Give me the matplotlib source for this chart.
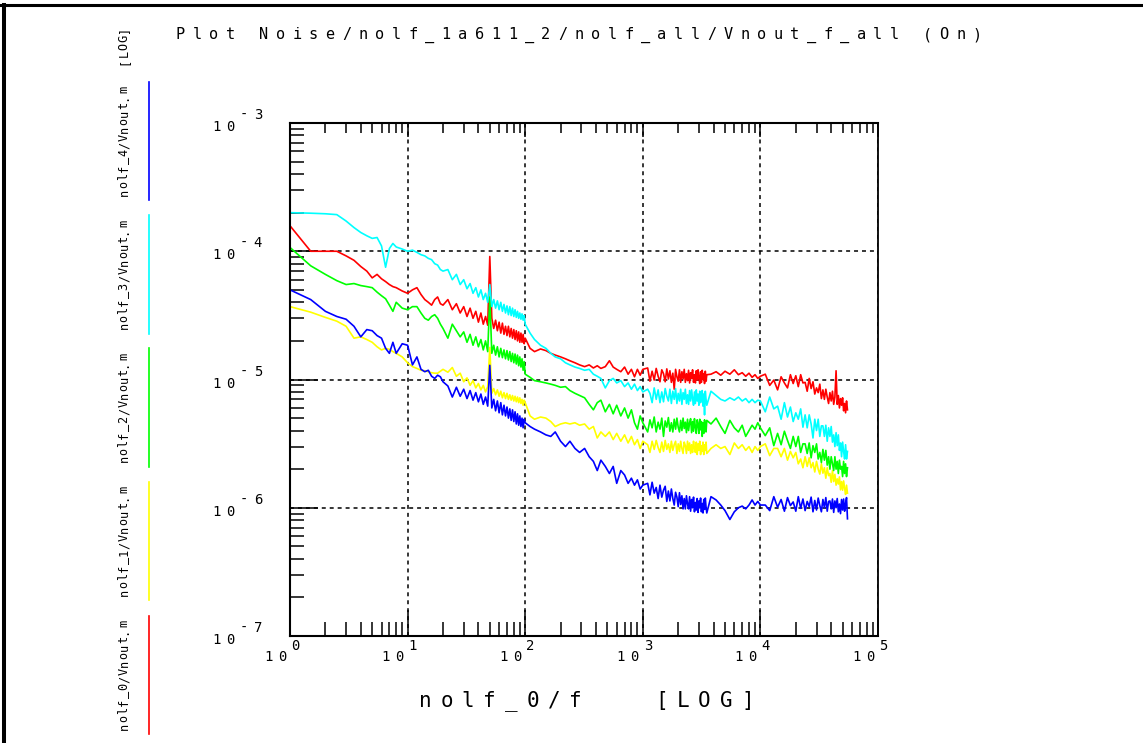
import numpy as np
import matplotlib
matplotlib.use("Agg")
import matplotlib.pyplot as plt
from matplotlib.lines import Line2D
from matplotlib.ticker import LogLocator, NullFormatter

W, H = 1143, 743

# ---------------- data ----------------
# sweep frequencies (Hz), five sweep segments
freq_a = [1, 1.5, 2, 2.5, 3, 3.5, 4, 4.5, 5, 5.5, 6, 6.5, 7, 7.5, 8, 9, 10, 11, 12, 13, 14,
          15, 16, 17, 18, 19, 20,
          22, 24, 26, 28, 30, 32, 34, 36, 38, 40, 42, 44, 46, 48, 50, 52, 54, 56, 58, 60,
          62, 64, 66, 68, 70, 72, 74, 76, 78, 80, 82, 84, 86, 88, 90, 92, 94, 96, 98, 100]
freq_b = [110, 120, 135, 150, 165, 180, 200, 220, 240, 265, 290, 320, 350, 380, 410, 440,
          480, 520, 560, 600, 650, 700, 750, 800, 850, 900, 950, 1000]
freq_c = [1100, 1150, 1200, 1250, 1300, 1350, 1400, 1450, 1500, 1550, 1600, 1650, 1700,
          1750, 1800, 1850, 1900, 1950, 2000, 2050, 2100, 2150, 2200, 2250, 2300, 2350,
          2400, 2450, 2500, 2550, 2600, 2650, 2700, 2750, 2800, 2850, 2900, 2950, 3000,
          3050, 3100, 3150, 3200, 3250, 3300, 3350, 3400, 3450, 3500]
freq_d = [3800, 4200, 4600, 5000, 5500, 6000, 6500, 7000, 7500, 8000, 8500, 9000, 9500, 10000]
freq_e = [11000, 12000, 13000, 14000, 15000, 16000, 17000, 18000, 19000, 20000, 21000,
          22000, 23000, 24000, 25000, 26000, 27000, 28000, 29000, 30000, 31000, 32000,
          33000, 34000, 35000, 36000, 37000, 38000, 39000, 40000, 41000, 42000, 43000,
          44000, 45000, 46000, 47000, 48000, 49000, 50000, 51000, 52000, 53000, 54000, 55000]
freq = freq_a + freq_b + freq_c + freq_d + freq_e

# output noise voltage, microvolts
nolf_0 = [158, 100, 100, 100, 92, 85, 76, 70, 62, 66, 61, 58, 55, 53, 52, 49, 47, 50, 52, 46,
          42, 40, 38, 42, 44, 39, 38,
          42, 35, 39, 33, 37, 31, 36, 30, 34, 28, 33, 27, 31, 26.5, 91, 30, 25, 29, 24, 28,
          23, 27.5, 22.5, 26, 22, 26, 21.5, 25, 21, 24.5, 20.5, 24, 20, 23.5, 19.5, 23, 19.5,
          22.5, 19, 21,
          17.5, 16.5, 17.3, 16.8, 16, 15.5, 15, 14.5, 14, 13.5, 13, 12.6, 13, 12.3, 12.8, 12.2,
          12.6, 14, 12.5, 12, 11.5, 12.5, 11, 12, 10.5, 12, 10.8, 12,
          12.3, 9.7, 11.6, 9.9, 12.2, 10.6, 9.6, 11.9, 11.1, 9.6, 12.1, 10.1, 11.7, 9.5, 11.2,
          8.4, 12.0, 10.5, 9.7, 11.9, 9.5, 11.5, 10.1, 12.0, 9.5, 11.1, 9.8, 11.8, 9.4, 11.3,
          10.2, 11.9, 9.5, 10.9, 9.4, 11.7, 9.9, 11.9, 10.3, 9.3, 11.5, 9.5, 11.8, 10.0, 11.1,
          9.3, 11.6, 9.7, 10.9,
          11, 11.5, 10.8, 11.6, 11, 11.9, 10.9, 11.3, 10.6, 11.2, 10.4, 10.9, 10.2, 10.6,
          11.0, 9.0, 9.9, 8.3, 10.5, 9.4, 8.6, 10.9, 9.3, 10.7, 8.8, 10.9, 9.4, 9.5, 8.1, 10.2,
          8.5, 9.6, 7.7, 8.6, 7.9, 9.2, 7.1, 8.3, 7.0, 8.4, 7.3, 6.5, 7.9, 6.8, 8.1, 6.4, 7.3,
          11.7, 6.4, 7.5, 6.0, 7.1, 6.3, 7.2, 5.7, 6.5, 5.5, 6.8, 5.8]

nolf_1 = [37, 33.5, 30.5, 28.5, 26, 21, 21.5, 20.5, 19.5, 18, 17, 17.5, 17.2, 16.5, 16, 15,
          13.5, 12.6, 12.2, 11.8, 11.7, 11.5, 11.3, 11.2, 11.2, 11.6, 12.0,
          11.4, 12.4, 10.6, 11.2, 9.6, 10.3, 9.0, 9.8, 8.6, 9.3, 8.3, 9.0, 8.0, 8.8, 17.8, 7.8,
          8.5, 7.6, 8.3, 7.4, 8.1, 7.2, 7.9, 7.1, 7.8, 7.0, 7.6, 6.9, 7.5, 6.8, 7.4, 6.7, 7.3,
          6.6, 7.2, 6.5, 7.0, 6.3, 6.9, 6.6,
          5.2, 4.9, 5.1, 5.0, 4.7, 4.3, 4.5, 4.6, 4.5, 4.6, 4.4, 4.5, 4.1, 4.3, 3.5, 3.9, 3.6,
          3.9, 3.4, 3.8, 3.3, 3.7, 3.2, 3.6, 3.1, 3.4, 2.9, 3.3,
          3.1, 2.7, 3.3, 2.85, 3.35, 2.95, 2.7, 3.25, 2.75, 3.35, 2.85, 3.15, 2.7, 3.3, 2.8,
          3.1, 3.3, 2.65, 3.15, 2.75, 3.3, 2.9, 2.65, 3.25, 3.05, 2.65, 3.3, 2.8, 3.2, 2.65,
          3.1, 2.7, 3.3, 2.9, 2.7, 3.25, 2.6, 3.15, 2.8, 3.3, 2.6, 3.05, 2.75, 3.25, 2.6, 3.1,
          2.8, 3.25, 2.65,
          2.9, 3.1, 2.9, 3.0, 2.6, 3.2, 2.9, 3.1, 2.8, 3.0, 2.7, 3.0, 2.8, 3.0,
          3.15, 2.55, 2.9, 2.9, 2.5, 2.9, 2.35, 2.75, 2.45, 2.7, 2.2, 2.4, 2.05, 2.5, 2.1, 2.45,
          2.05, 2.25, 1.9, 2.3, 2.0, 1.83, 2.2, 1.86, 2.05, 1.7, 2.05, 1.78, 1.85, 1.58, 1.95,
          1.6, 1.82, 1.5, 1.68, 1.53, 1.74, 1.38, 1.6, 1.37, 1.62, 1.42, 1.27, 1.5, 1.3]

nolf_2 = [107, 77, 66, 59, 55, 56, 54, 53, 52, 48, 45, 42.6, 38, 34, 40, 36, 35, 37, 37, 33,
          30, 29, 31, 32, 30, 27, 25,
          21, 27, 24, 21.5, 23.5, 19.5, 22.5, 18.5, 21.5, 18, 20.5, 17, 20, 16.5, 44, 16, 18.5,
          15.5, 18, 15, 17.5, 14.8, 17, 14.5, 16.8, 14.2, 16.5, 13.8, 16, 13.5, 15.8, 13.2,
          15.5, 12.8, 15, 12.5, 14.5, 11.8, 13.8, 11,
          10.4, 9.8, 9.6, 9.4, 9.2, 9.0, 8.7, 8.8, 8.2, 7.8, 7.5, 7.2, 6.4, 5.8, 6.6, 6.9, 5.6,
          6.4, 5.4, 6.3, 5.2, 6.0, 5.0, 5.8, 4.6, 4.1, 5.2, 4.6,
          3.9, 4.85, 4.2, 5.1, 3.9, 4.65, 4.1, 5.0, 3.6, 4.75, 4.25, 5.05, 3.95, 4.6, 3.9, 4.9,
          4.1, 5.0, 4.25, 3.9, 4.8, 4.0, 5.0, 4.15, 4.65, 3.85, 4.9, 4.0, 4.6, 4.95, 3.85, 4.7,
          3.95, 4.95, 4.25, 3.8, 4.85, 4.5, 3.8, 4.9, 4.05, 4.7, 3.6, 4.6, 3.8, 4.85, 4.2, 3.9,
          4.8,
          4.5, 5.0, 4.3, 3.8, 4.8, 4.2, 3.9, 4.4, 3.6, 4.0, 4.4, 4.1, 4.6, 4.2,
          3.65, 4.2, 3.05, 3.8, 3.1, 3.95, 3.35, 2.9, 3.6, 3.0, 3.6, 2.7, 3.15, 3.15, 2.65, 3.2,
          2.45, 3.05, 2.7, 3.15, 2.4, 2.7, 2.25, 2.85, 2.35, 2.8, 2.15, 2.5, 2.0, 2.5, 2.2,
          1.95, 2.5, 2.0, 2.3, 1.85, 2.35, 2.0, 2.1, 1.75, 2.3, 1.85, 2.2, 1.75, 2.05]

nolf_3 = [200, 198, 196, 193, 172, 153, 140, 132, 126, 128, 110, 75, 105, 115, 108, 104, 100,
          102, 98, 94, 92, 88, 86, 80, 78, 72, 70,
          72, 60, 66, 55, 60, 51, 56, 47, 52, 44, 50, 42, 47, 40, 55, 37, 42, 36, 41, 35, 40,
          34, 38.5, 33, 37.5, 32, 37, 31.5, 36, 31, 35, 30.5, 34, 30, 33, 29.5, 32.5, 29, 31.5,
          27,
          23, 20.5, 18.5, 17.5, 16, 15, 14.5, 13.5, 13, 12.5, 12.2, 11.8, 12, 11, 10.6, 10.2,
          8.6, 9.8, 10.2, 9.4, 9.8, 8.8, 9.4, 8.4, 9.2, 8.2, 8.8, 8.0,
          8.4, 7.8, 6.6, 8.6, 7.0, 8.3, 6.6, 8.0, 6.7, 8.5, 7.4, 6.8, 8.4, 6.5, 8.1, 7.0, 8.5,
          6.5, 7.8, 6.8, 8.4, 6.4, 7.9, 7.0, 8.4, 6.5, 7.6, 6.4, 8.2, 6.8, 8.3, 7.1, 6.3, 8.0,
          6.5, 8.3, 6.8, 7.7, 6.3, 8.1, 6.6, 7.6, 8.2, 6.2, 7.7, 5.3, 8.1, 7.0, 6.3,
          8.1, 7.5, 7.0, 6.8, 7.2, 6.9, 7.3, 6.8, 7.1, 6.6, 7.0, 6.6, 6.9, 6.8,
          5.6, 7.3, 5.9, 6.2, 4.9, 6.6, 5.1, 6.1, 4.7, 5.5, 4.9, 5.9, 4.25, 5.3, 4.2, 5.3, 4.5,
          3.5, 4.9, 4.0, 4.9, 3.6, 4.35, 4.35, 3.6, 4.4, 3.3, 4.2, 3.6, 4.3, 3.25, 3.7, 3.0,
          3.85, 3.05, 3.7, 2.8, 3.2, 2.5, 3.25, 2.75, 2.4, 3.1, 2.4, 2.75]

nolf_4 = [50, 42, 34, 31, 29.5, 26, 21.5, 24.5, 24, 22, 21, 17.5, 16, 19.5, 16, 19, 18.5, 13,
          15, 12, 11.5, 11.8, 10.6, 10.2, 10.8, 10.5, 9.6,
          8.9, 7.3, 8.7, 7.4, 8.4, 7.1, 8.2, 6.9, 7.9, 6.7, 7.7, 6.4, 7.3, 6.2, 12.9, 6.0, 7.0,
          5.7, 6.8, 5.5, 6.6, 5.3, 6.3, 5.2, 6.1, 5.0, 5.9, 4.8, 5.8, 4.7, 5.6, 4.5, 5.4, 4.4,
          5.2, 4.3, 5.0, 4.2, 4.9, 4.6,
          4.3, 4.1, 3.9, 3.7, 3.6, 3.9, 3.3, 3.0, 3.3, 2.9, 2.7, 2.9, 2.5, 2.3, 1.95, 2.35, 2.1,
          1.85, 2.1, 1.55, 1.95, 1.8, 1.55, 1.7, 1.5, 1.65, 1.4, 1.5,
          1.55, 1.26, 1.58, 1.3, 1.44, 1.18, 1.5, 1.21, 1.37, 1.47, 1.12, 1.35, 1.13, 1.4, 1.18,
          1.05, 1.32, 1.21, 1.02, 1.31, 1.06, 1.24, 0.98, 1.18, 0.98, 1.24, 1.07, 0.98, 1.22,
          0.94, 1.16, 1.0, 1.21, 0.93, 1.1, 0.96, 1.18, 0.92, 1.13, 1.0, 1.19, 0.93, 1.08, 0.91,
          1.16, 0.97, 1.19, 1.01, 0.91,
          1.22, 1.15, 1.05, 0.95, 0.81, 0.93, 1.0, 1.03, 0.98, 1.05, 1.15, 1.05, 1.12, 1.05,
          1.05, 0.95, 1.22, 1.01, 1.16, 0.94, 1.2, 1.04, 1.11, 0.94, 1.22, 0.99, 1.17, 0.95,
          1.12, 1.02, 1.21, 0.93, 1.14, 0.96, 1.19, 1.04, 0.93, 1.16, 1.0, 1.2, 0.94, 1.12,
          1.13, 0.98, 1.17, 0.92, 1.13, 1.0, 1.18, 0.93, 1.07, 0.9, 1.16, 0.96, 1.17, 0.94,
          1.08, 1.2, 0.82]

labels = ["nolf_0/Vnout.m", "nolf_1/Vnout.m", "nolf_2/Vnout.m", "nolf_3/Vnout.m", "nolf_4/Vnout.m"]
values = [nolf_0, nolf_1, nolf_2, nolf_3, nolf_4]
colors = ["#ff0000", "#ffff00", "#00ff00", "#00ffff", "#0000ff"]

title = "Plot Noise/nolf_1a611_2/nolf_all/Vnout_f_all (On)"
xlabel = "nolf_0/f   [LOG]"
x_decades = [0, 1, 2, 3, 4, 5]
y_decades = [-7, -6, -5, -4, -3]

for v in values:
    assert len(v) == len(freq), (len(v), len(freq))

# ---------------- figure ----------------
MONO = "DejaVu Sans Mono"
fig = plt.figure(figsize=(W / 100, H / 100), dpi=100)
fig.patch.set_facecolor("white")

def fpos(x, y):
    return x / W, 1 - y / H

def mono(s, x0, y0, adv, size, rot=False):
    """Fixed-pitch text; x0,y0 = centre/baseline of first char (pixels, top-left origin)."""
    for i, ch in enumerate(s):
        if ch == " ":
            continue
        if not rot:
            fx, fy = fpos(x0 + i * adv, y0)
            fig.text(fx, fy, ch, ha="center", va="baseline", fontsize=size,
                     family=MONO, color="black")
        else:
            fx, fy = fpos(x0, y0 - i * adv)
            fig.text(fx, fy, ch, ha="center", va="baseline", fontsize=size,
                     family=MONO, color="black", rotation=90, rotation_mode="anchor")

ax = fig.add_axes([290 / W, 1 - 636 / H, 588 / W, 513 / H])
ax.set_xscale("log")
ax.set_yscale("log")
ax.set_xlim(1, 1e5)
ax.set_ylim(1e-7, 1e-3)

for v, c in zip(values, colors):
    ax.plot(freq, np.array(v) * 1e-6, color=c, linewidth=1.2)

ax.grid(True, which="major", color="black", linestyle=(0, (2.6, 2.6)), linewidth=1.1)
ax.grid(False, which="minor")

for sp in ax.spines.values():
    sp.set_linewidth(1.5)
ax.spines["right"].set_linewidth(1.3)

for axis in (ax.xaxis, ax.yaxis):
    axis.set_major_locator(LogLocator(base=10, numticks=20))
    axis.set_minor_locator(LogLocator(base=10, subs=np.arange(2, 10), numticks=20))
    axis.set_major_formatter(NullFormatter())
    axis.set_minor_formatter(NullFormatter())

ax.tick_params(axis="y", which="major", direction="in", length=20, width=1.1,
               left=True, right=False)
ax.tick_params(axis="y", which="minor", direction="in", length=10, width=1.1,
               left=True, right=False)
ax.tick_params(axis="x", which="major", direction="in", length=19, width=1.1,
               bottom=True, top=False)
ax.tick_params(axis="x", which="minor", direction="in", length=10, width=1.1,
               bottom=True, top=False)

ax2 = ax.twiny()
ax2.set_xscale("log")
ax2.set_xlim(1, 1e5)
ax2.xaxis.set_major_locator(LogLocator(base=10, numticks=20))
ax2.xaxis.set_minor_locator(LogLocator(base=10, subs=np.arange(2, 10), numticks=20))
ax2.xaxis.set_major_formatter(NullFormatter())
ax2.xaxis.set_minor_formatter(NullFormatter())
ax2.tick_params(axis="x", which="major", direction="in", length=10, width=1.1,
                top=True, bottom=False)
ax2.tick_params(axis="x", which="minor", direction="in", length=7.2, width=1.1,
                top=True, bottom=False)
for sp in ax2.spines.values():
    sp.set_visible(False)

# ---- tick labels (10 with superscript exponent) ----
TS = 10
for k in y_decades:
    d = ax.transData.transform((1, 10.0 ** k))
    yp = H - d[1]
    mono("10", 216, yp + 8, 14, TS)
    mono(str(k), 243.5, yp - 4, 14.5, TS)

for k in x_decades:
    d = ax.transData.transform((10.0 ** k, 1e-7))
    xp = d[0]
    mono("10", xp - 22, 661, 14, TS)
    mono(str(k), xp + 5, 650, 14, TS)

# ---- title and axis label ----
mono(title, 180.5, 39, 16.6, 11)
mono(xlabel, 425, 707, 21.5, 15)

# ---- left legend ----
mono("[LOG]", 127.5, 46 + 2 * 7.9, 7.9, 8.6, rot=True)
seg = {"nolf_4/Vnout.m": (82, 200), "nolf_3/Vnout.m": (215, 334),
       "nolf_2/Vnout.m": (348, 467), "nolf_1/Vnout.m": (482, 600),
       "nolf_0/Vnout.m": (616, 734)}
for lab, c in zip(labels, colors):
    y0, y1 = seg[lab]
    fig.add_artist(Line2D([149 / W, 149 / W], [1 - y0 / H, 1 - y1 / H],
                          transform=fig.transFigure, color=c, linewidth=1.2))
    yc = (y0 + y1) / 2
    n = len(lab)
    mono(lab, 127.5, yc + (n - 1) / 2 * 7.9, 7.9, 8.6, rot=True)

# ---- window border (top and left) ----
fig.add_artist(Line2D([0, 1], [1 - 5 / H, 1 - 5 / H], transform=fig.transFigure,
                      color="black", linewidth=2.2))
fig.add_artist(Line2D([4 / W, 4 / W], [0, 1 - 5 / H], transform=fig.transFigure,
                      color="black", linewidth=2.9))

fig.savefig("out.png", dpi=100)
